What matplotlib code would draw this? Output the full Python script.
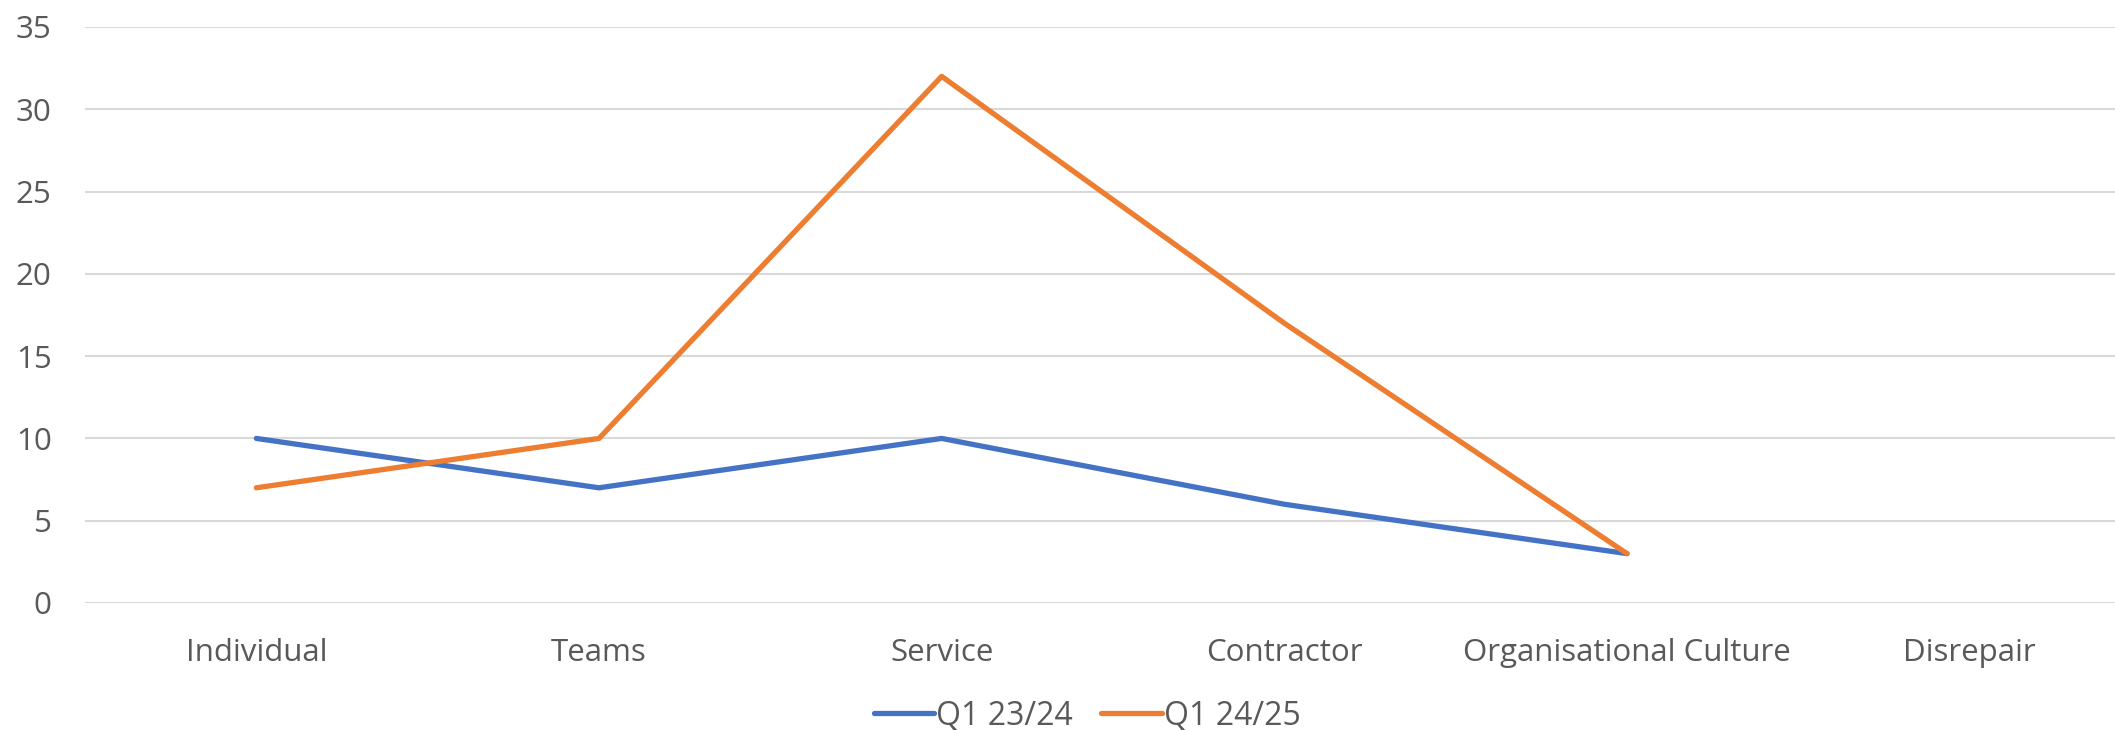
import numpy as np
import matplotlib.pyplot as plt

plt.rcParams['font.family'] = ['Open Sans', 'DejaVu Sans']

# Categories and quarterly counts
categories = ['Individual', 'Teams', 'Service', 'Contractor',
              'Organisational Culture', 'Disrepair']
q1_2324 = [10, 7, 10, 6, 3, np.nan]
q1_2425 = [7, 10, 32, 17, 3, np.nan]
series_names = ['Q1 23/24', 'Q1 24/25']

text_color = '#595959'
grid_color = '#D9D9D9'

fig = plt.figure(figsize=(21.15, 7.3), dpi=100)
ax = fig.add_axes([85 / 2115, 1 - 603 / 730, 2056 / 2115, 576 / 730])

x = np.arange(len(categories))
ax.plot(x, q1_2324, color='#4472C4', lw=3.8, label=series_names[0],
        solid_capstyle='round', solid_joinstyle='round')
ax.plot(x, q1_2425, color='#ED7D31', lw=3.8, label=series_names[1],
        solid_capstyle='round', solid_joinstyle='round')

ax.set_xlim(-0.5, len(categories) - 0.5)
ax.set_ylim(0, 35)
ax.set_yticks(np.arange(0, 36, 5))
ax.set_xticks(x)
ax.set_xticklabels(categories)

ax.grid(axis='y', color=grid_color, lw=1.5)
ax.set_axisbelow(True)
for s in ax.spines.values():
    s.set_visible(False)
ax.tick_params(axis='both', length=0, labelsize=22.5, colors=text_color)
ax.tick_params(axis='y', pad=24)
ax.tick_params(axis='x', pad=25)

leg = fig.legend(loc='center', bbox_to_anchor=(1087 / 2115, 1 - 716 / 730),
                 ncol=2, frameon=False, fontsize=23, handlelength=1.9,
                 handletextpad=0.05, columnspacing=0.9)
for t in leg.get_texts():
    t.set_color(text_color)

fig.savefig('out.png', dpi=100)
